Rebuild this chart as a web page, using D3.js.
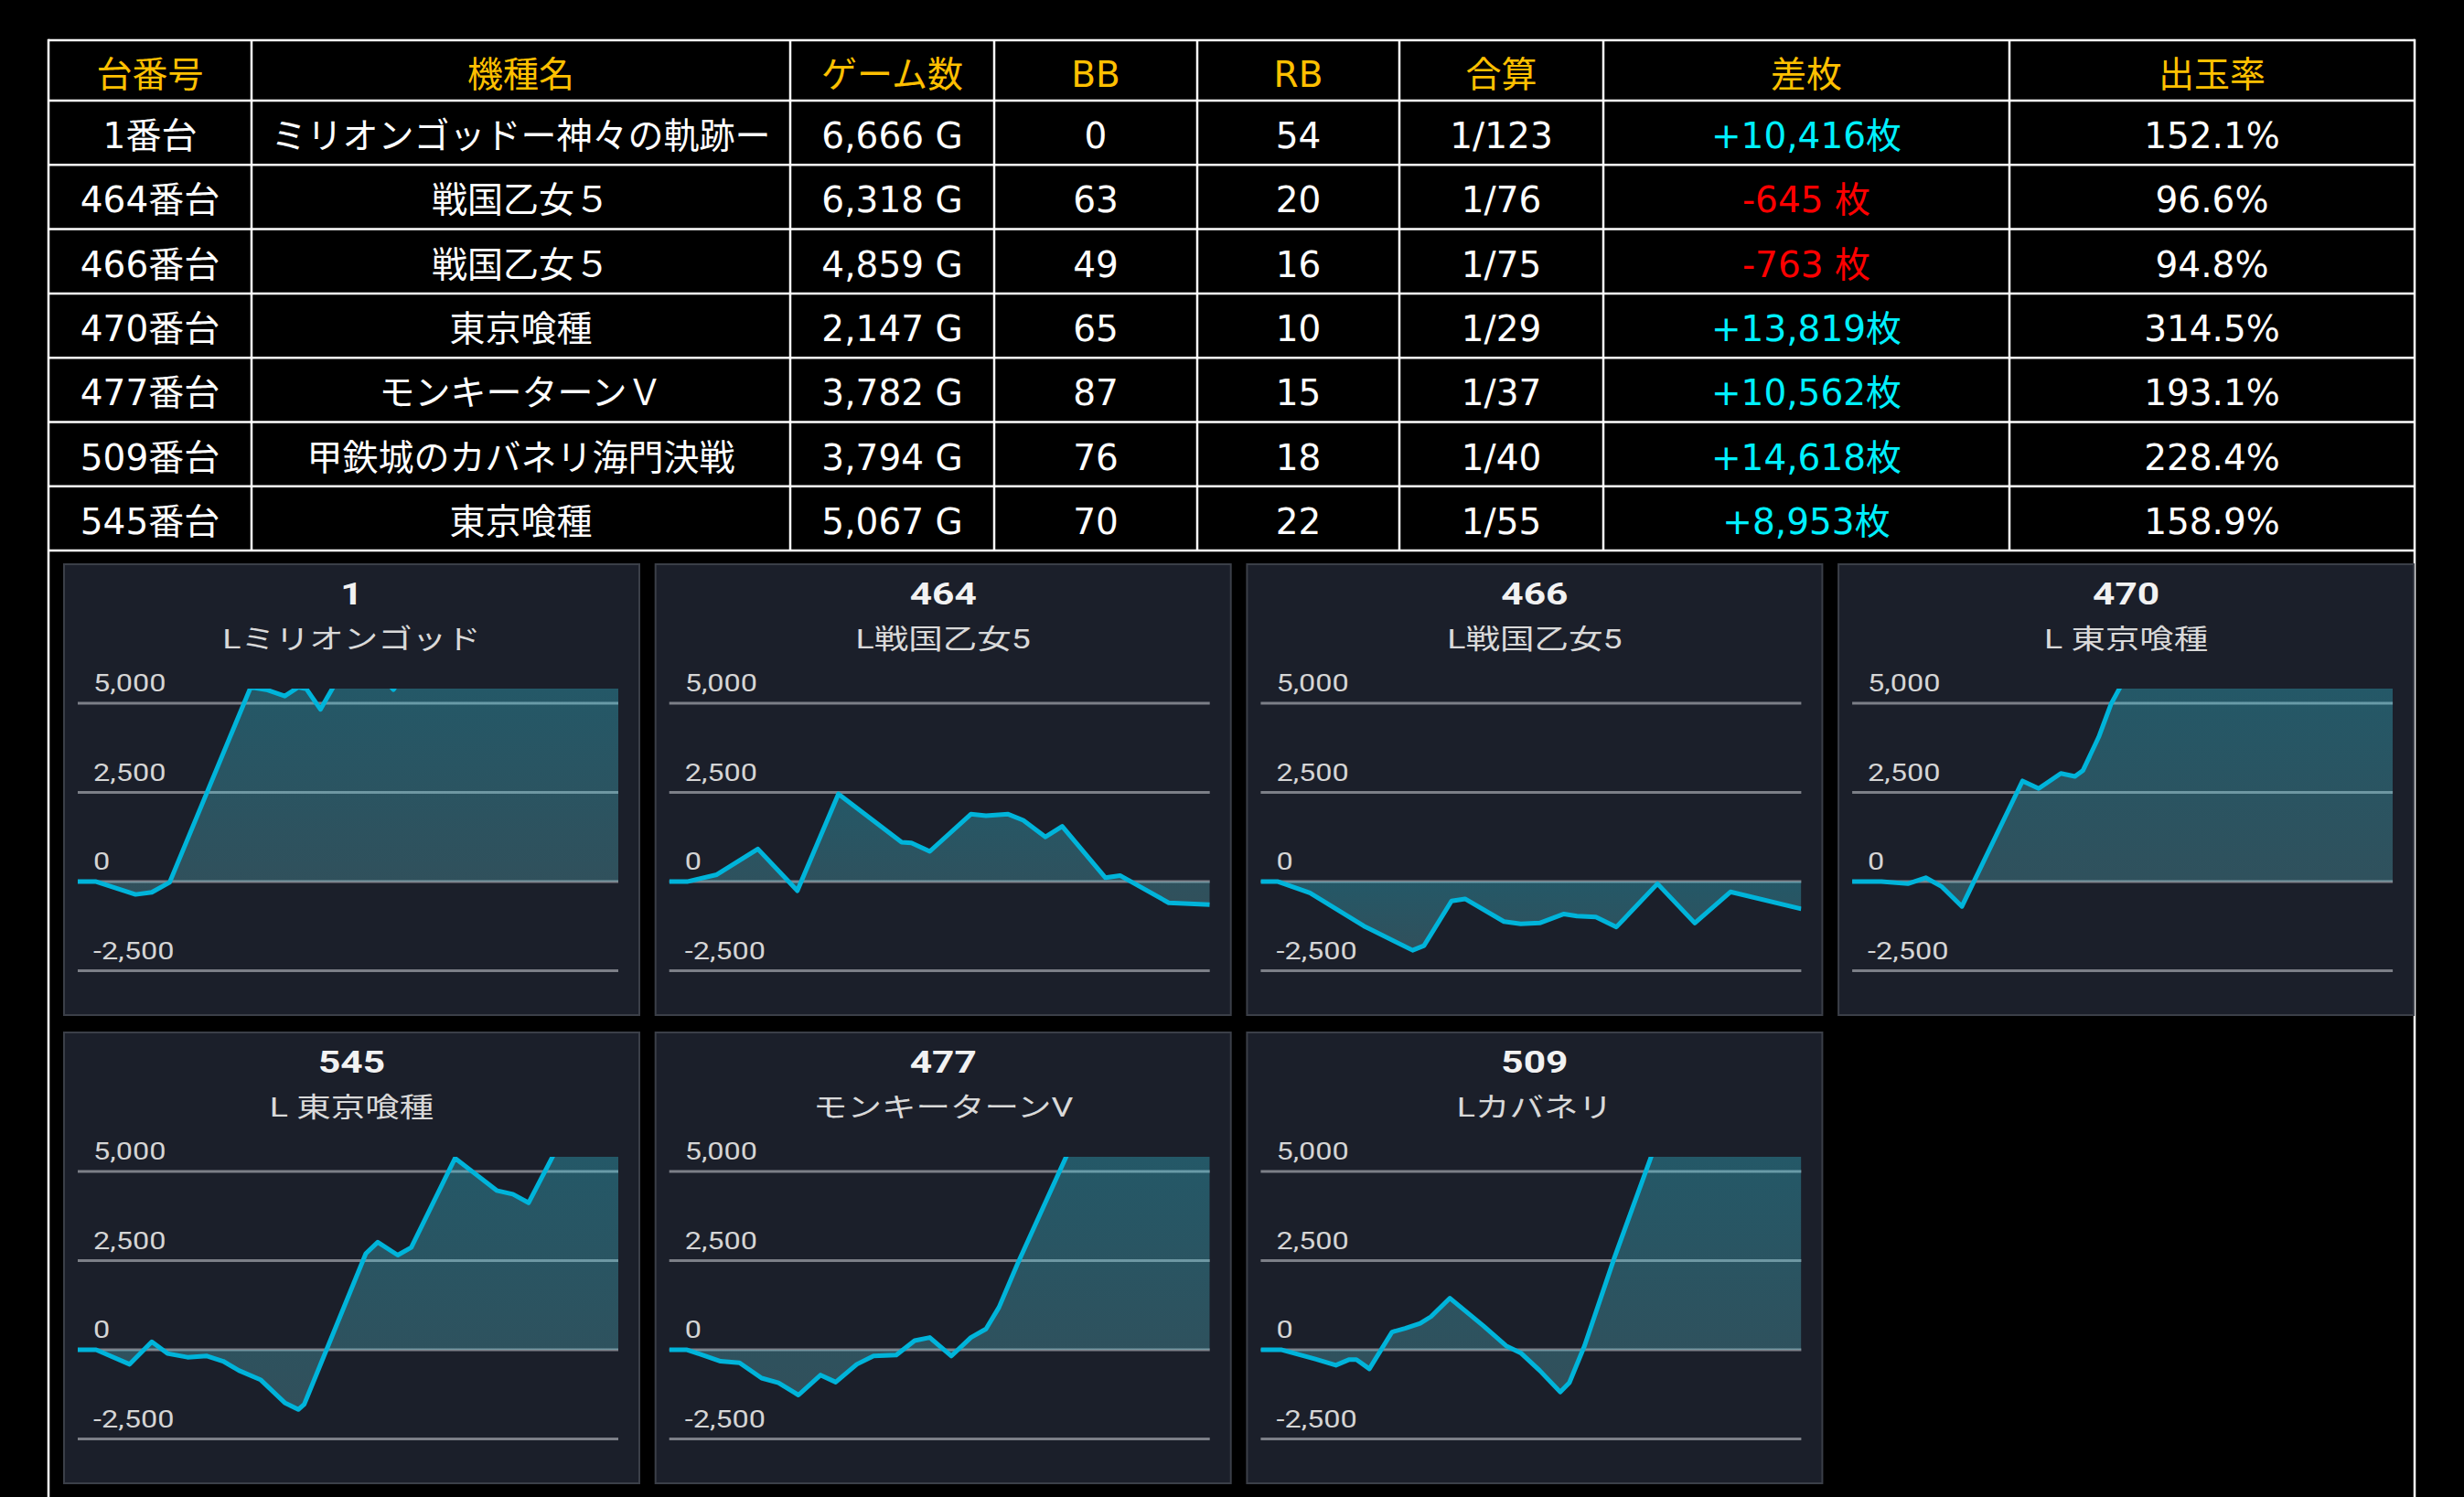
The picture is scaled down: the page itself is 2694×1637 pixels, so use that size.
<!DOCTYPE html>
<html>
<head>
<meta charset="utf-8">
<script src="https://cdn.jsdelivr.net/npm/d3@7"></script>
<style>
  html, body { margin: 0; padding: 0; background: #000; }
  svg { display: block; }
</style>
</head>
<body>
<svg id="chart" width="2694" height="1637"></svg>
<script>
// Table data
const headers = ["台番号", "機種名", "ゲーム数", "BB", "RB", "合算", "差枚", "出玉率"];
const machineNo = ["1番台", "464番台", "466番台", "470番台", "477番台", "509番台", "545番台"];
const machineName = ["ミリオンゴッドー神々の軌跡ー", "戦国乙女５", "戦国乙女５", "東京喰種", "モンキーターンＶ", "甲鉄城のカバネリ海門決戦", "東京喰種"];
const games = ["6,666 G", "6,318 G", "4,859 G", "2,147 G", "3,782 G", "3,794 G", "5,067 G"];
const bb = [0, 63, 49, 65, 87, 76, 70];
const rb = [54, 20, 16, 10, 15, 18, 22];
const combined = ["1/123", "1/76", "1/75", "1/29", "1/37", "1/40", "1/55"];
const diff = ["+10,416枚", "-645 枚", "-763 枚", "+13,819枚", "+10,562枚", "+14,618枚", "+8,953枚"];
const payout = ["152.1%", "96.6%", "94.8%", "314.5%", "193.1%", "228.4%", "158.9%"];

// Slump graphs: [progress %, coins]
const slump1   = [[0,0],[3.4,0],[10.7,-360],[13.7,-300],[17.0,-20],[32.0,5450],[34.9,5380],[38.3,5200],[40.8,5450],[42.3,5400],[44.9,4830],[48.2,5700],[53,6300],[58.4,5380],[65,6900],[75,8100],[85,9200],[92,9900],[100,10416]];
const slump464 = [[0,0],[3.3,0],[8.8,195],[16.4,915],[23.7,-254],[31.3,2458],[43.0,1102],[44.8,1085],[48.2,847],[55.8,1890],[58.6,1847],[62.7,1890],[65.5,1720],[69.6,1254],[72.7,1550],[80.7,110],[83.4,170],[92.4,-593],[100,-645]];
const slump466 = [[0,0],[3.2,0],[9.1,-314],[19.1,-1246],[28.1,-1924],[30.2,-1797],[35.3,-542],[37.8,-483],[45.0,-1119],[48.1,-1186],[51.6,-1161],[56.1,-907],[58.5,-966],[62.0,-992],[65.8,-1271],[73.4,-59],[80.3,-1161],[86.9,-288],[100,-763]];
const slump470 = [[0,0],[5.4,0],[10.3,-59],[13.6,110],[16.6,-144],[20.3,-695],[31.5,2822],[34.5,2610],[38.6,3034],[41.2,2949],[42.7,3119],[45.6,4051],[47.9,4983],[49.4,5400],[52,6300],[60,8100],[70,10200],[80,11600],[90,12900],[100,13819]];
const slump545 = [[0,0],[3.4,0],[9.6,-405],[13.7,224],[16.6,-103],[20.3,-207],[23.9,-172],[26.9,-319],[29.8,-578],[33.8,-836],[38.3,-1483],[40.8,-1672],[41.9,-1526],[53.3,2698],[55.5,3017],[59.2,2655],[61.7,2871],[69.8,5371],[77.5,4466],[80.5,4362],[83.4,4121],[87.8,5400],[92,6600],[96,7900],[100,8953]];
const slump477 = [[0,0],[3.3,0],[9.5,-319],[13.0,-362],[17.1,-793],[20.2,-922],[23.9,-1267],[28.0,-707],[30.8,-905],[34.7,-405],[37.8,-172],[42.0,-147],[45.4,259],[48.2,345],[52.2,-172],[55.8,345],[58.6,586],[61.0,1190],[64.4,2397],[73.4,5400],[78,6700],[85,8200],[92,9500],[100,10562]];
const slump509 = [[0,0],[3.9,0],[10.1,-259],[13.9,-431],[16.3,-276],[17.7,-276],[20.1,-534],[24.3,500],[26.7,603],[29.5,741],[31.5,931],[35.0,1448],[41.2,672],[45.4,112],[48.1,-86],[51.6,-578],[55.4,-1181],[57.1,-922],[59.9,112],[65.4,2569],[72.2,5400],[78,7600],[85,10200],[92,12400],[100,14618]];

const panelIds = ["1", "464", "466", "470", "545", "477", "509"];
const panelNames = ["Lミリオンゴッド", "L戦国乙女5", "L戦国乙女5", "L 東京喰種", "L 東京喰種", "モンキーターンV", "Lカバネリ"];
const panelData = [slump1, slump464, slump466, slump470, slump545, slump477, slump509];
const yTicks = [-2500, 0, 2500, 5000];

const svg = d3.select("#chart");
// plain hyphen for negatives, like the source
const fmt = d => d3.format(",")(d).replace("\u2212", "-");

// ---------- table ----------
const colW = [222, 589, 223, 222, 221, 223, 444, 443];
const tableX = 53, tableTop = 44, headH = 66, rowH = 70.3;
const colX = Array.from(d3.cumsum([tableX, ...colW]));
const tableRight = colX[colX.length - 1];
const nRows = machineNo.length;
const tableBottom = tableTop + headH + nRows * rowH;

const rows = d3.range(nRows).map(i => [
  machineNo[i], machineName[i], games[i], bb[i], rb[i], combined[i], diff[i], payout[i]
]);

const tbl = svg.append("g").attr("class", "table")
  .style("font-family", "'DejaVu Sans', 'Noto Sans CJK JP', sans-serif")
  .style("font-size", "39px");

// header texts
tbl.selectAll("text.head")
  .data(headers).enter()
  .append("text")
  .attr("class", "head")
  .attr("x", (d, i) => (colX[i] + colX[i + 1]) / 2)
  .attr("y", tableTop + headH / 2 + 18)
  .attr("text-anchor", "middle")
  .attr("fill", "#ffc000")
  .text(d => d);

// body texts
const rowG = tbl.selectAll("g.row")
  .data(rows).enter()
  .append("g")
  .attr("class", "row")
  .attr("transform", (d, i) => `translate(0,${tableTop + headH + i * rowH + rowH / 2 + 17})`);

rowG.selectAll("text")
  .data(d => d).enter()
  .append("text")
  .attr("x", (d, i) => (colX[i] + colX[i + 1]) / 2)
  .attr("text-anchor", "middle")
  .attr("fill", (d, i) => {
    if (i != 6) return "#ffffff";
    return String(d).startsWith("-") ? "#ff0000" : "#00f0ff";
  })
  .text(d => d);

// grid lines
const hLines = [tableTop, tableTop + headH].concat(d3.range(1, nRows + 1).map(i => tableTop + headH + i * rowH));
tbl.selectAll("line.h")
  .data(hLines).enter()
  .append("line")
  .attr("x1", tableX).attr("x2", tableRight)
  .attr("y1", d => d).attr("y2", d => d)
  .attr("stroke", "#fff").attr("stroke-width", 2.5);

tbl.selectAll("line.v")
  .data(colX.slice(1, -1)).enter()
  .append("line")
  .attr("x1", d => d).attr("x2", d => d)
  .attr("y1", tableTop).attr("y2", tableBottom)
  .attr("stroke", "#fff").attr("stroke-width", 2.5);

// outer borders run down through the graph row
tbl.selectAll("line.outer")
  .data([tableX, tableRight]).enter()
  .append("line")
  .attr("x1", d => d).attr("x2", d => d)
  .attr("y1", tableTop - 1.25).attr("y2", 1700)
  .attr("stroke", "#fff").attr("stroke-width", 2.5);

// ---------- slump panels ----------
const panelW = 629, panelH = 493, panelX0 = 70, panelY0 = 617, stepX = 646.7, stepY = 512;
const x = d3.scaleLinear().domain([0, 100]).range([15, 606]);
const y = d3.scaleLinear().domain([-2500, 5000]).range([444.6, 152]);
const clipTop = 136;
const sx = 1.25; // chart texts are drawn slightly stretched

const defs = svg.append("defs");

const panels = svg.selectAll("g.panel")
  .data(panelData).enter()
  .append("g")
  .attr("class", "panel")
  .attr("transform", (d, i) => `translate(${panelX0 + (i % 4) * stepX},${panelY0 + Math.floor(i / 4) * stepY})`)
  .style("font-family", "Roboto, 'Noto Sans CJK JP', sans-serif");

panels.append("rect")
  .attr("width", panelW).attr("height", panelH)
  .attr("fill", "#1b1f2a")
  .attr("stroke", "#3b3f48").attr("stroke-width", 2);

panels.append("text")
  .attr("transform", `translate(${panelW / 2},44) scale(${sx},1)`)
  .attr("text-anchor", "middle")
  .attr("fill", "#f2f2f2")
  .style("font-size", "34px").style("font-weight", "bold")
  .text((d, i) => panelIds[i]);

panels.append("text")
  .attr("transform", `translate(${panelW / 2},92) scale(${sx},1)`)
  .attr("text-anchor", "middle")
  .attr("fill", "#d9d9d9")
  .style("font-size", "30px")
  .text((d, i) => panelNames[i]);

panels.each(function(data, i) {
  let g = d3.select(this);

  // gridlines + labels
  g.selectAll("line.grid")
    .data(yTicks).enter()
    .append("line")
    .attr("x1", x.range()[0]).attr("x2", x.range()[1])
    .attr("y1", d => y(d)).attr("y2", d => y(d))
    .attr("stroke", "#7c7f87").attr("stroke-width", 3);

  g.selectAll("text.tick")
    .data(yTicks).enter()
    .append("text")
    .attr("transform", d => `translate(32,${y(d) - 13}) scale(${sx},1)`)
    .attr("fill", "#d5d5d5")
    .style("font-size", "26px")
    .text(d => fmt(d));

  // clip to the plot area
  let clipId = `clip${i}`;
  defs.append("clipPath").attr("id", clipId)
    .append("rect")
    .attr("x", x.range()[0]).attr("y", clipTop)
    .attr("width", x.range()[1] - x.range()[0])
    .attr("height", panelH - clipTop);

  // gradient over visible part of the area
  let maxV = Math.max(0, d3.max(data, d => d[1]));
  let minV = Math.min(0, d3.min(data, d => d[1]));
  let gradId = `grad${i}`;
  let grad = defs.append("linearGradient").attr("id", gradId)
    .attr("gradientUnits", "userSpaceOnUse")
    .attr("x1", 0).attr("x2", 0)
    .attr("y1", Math.max(y(maxV), clipTop)).attr("y2", y(minV));
  grad.append("stop").attr("offset", 0).attr("stop-color", "rgb(57,221,246)").attr("stop-opacity", 0.3);
  grad.append("stop").attr("offset", 1).attr("stop-color", "rgb(100,194,206)").attr("stop-opacity", 0.3);

  let area = d3.area()
    .x(d => x(d[0]))
    .y0(y(0))
    .y1(d => y(d[1]));

  let line = d3.line()
    .x(d => x(d[0]))
    .y(d => y(d[1]));

  let plot = g.append("g").attr("clip-path", `url(#${clipId})`);

  plot.append("path")
    .datum(data)
    .attr("d", area)
    .attr("fill", `url(#${gradId})`);

  plot.append("path")
    .datum(data)
    .attr("d", line)
    .attr("fill", "none")
    .attr("stroke", "#00b4da")
    .attr("stroke-width", 5)
    .attr("stroke-linejoin", "round");
});
</script>
</body>
</html>
